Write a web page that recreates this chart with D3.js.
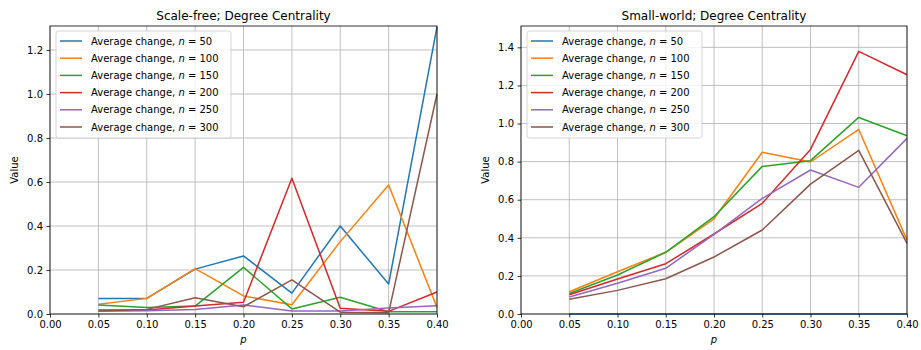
<!DOCTYPE html>
<html>
<head>
<meta charset="utf-8">
<script src="https://cdn.jsdelivr.net/npm/d3@7"></script>
<style>
  body { margin: 0; background: #fff; }
  svg { font-family: "DejaVu Sans", sans-serif; }
</style>
</head>
<body>
<div id="chart"></div>
<script>
// x values shared by both panels
var pValues = [0.05, 0.10, 0.15, 0.20, 0.25, 0.30, 0.35, 0.40];
var nValues = [50, 100, 150, 200, 250, 300];
var xTicks = [0, 0.05, 0.10, 0.15, 0.20, 0.25, 0.30, 0.35, 0.40];

// Scale-free panel
var sfN50  = [0.071, 0.071, 0.204, 0.264, 0.095, 0.400, 0.136, 1.305];
var sfN100 = [0.044, 0.071, 0.206, 0.082, 0.042, 0.329, 0.586, 0.030];
var sfN150 = [0.041, 0.029, 0.036, 0.212, 0.023, 0.076, 0.010, 0.010];
var sfN200 = [0.018, 0.018, 0.036, 0.053, 0.617, 0.026, 0.012, 0.100];
var sfN250 = [0.013, 0.015, 0.021, 0.041, 0.014, 0.014, 0.027, 0.037];
var sfN300 = [0.015, 0.021, 0.074, 0.033, 0.155, 0.008, 0.006, 1.000];
var sfTicks = [0, 0.2, 0.4, 0.6, 0.8, 1.0, 1.2];

// Small-world panel
var swN50  = [0, 0, 0, 0, 0, 0, 0, 0];
var swN100 = [0.117, 0.222, 0.324, 0.500, 0.849, 0.798, 0.969, 0.388];
var swN150 = [0.108, 0.205, 0.324, 0.511, 0.775, 0.805, 1.032, 0.936];
var swN200 = [0.101, 0.184, 0.264, 0.420, 0.581, 0.864, 1.379, 1.256];
var swN250 = [0.089, 0.161, 0.240, 0.418, 0.607, 0.756, 0.665, 0.922];
var swN300 = [0.077, 0.124, 0.185, 0.299, 0.441, 0.682, 0.859, 0.371];
var swTicks = [0, 0.2, 0.4, 0.6, 0.8, 1.0, 1.2, 1.4];

var colors = ["#1f77b4", "#ff7f0e", "#2ca02c", "#d62728", "#9467bd", "#8c564b"];

var svg = d3.select("#chart").append("svg")
    .attr("width", 921).attr("height", 350);

function drawPanel(opts) {
    var left = opts.left, right = opts.right, top = 26, bottom = 314;
    var x = d3.scaleLinear().domain([0, 0.4]).range([left, right]);
    var y = d3.scaleLinear().domain([0, opts.ymax]).range([bottom, top]);
    var g = svg.append("g");

    // grid
    g.append("g").selectAll("line").data(xTicks).enter().append("line")
        .attr("x1", function(d) { return x(d); }).attr("x2", function(d) { return x(d); })
        .attr("y1", top).attr("y2", bottom)
        .style("stroke", "#b0b0b0").attr("stroke-width", 0.8);
    g.append("g").selectAll("line").data(opts.yTicks).enter().append("line")
        .attr("x1", left).attr("x2", right)
        .attr("y1", function(d) { return y(d); }).attr("y2", function(d) { return y(d); })
        .style("stroke", "#b0b0b0").attr("stroke-width", 0.8);

    // series
    var line = d3.line()
        .x(function(d, i) { return x(pValues[i]); })
        .y(function(d) { return y(d); });
    opts.series.forEach(function(s, i) {
        g.append("path").datum(s).attr("d", line)
            .attr("fill", "none").style("stroke", colors[i])
            .attr("stroke-width", 1.5).attr("stroke-linejoin", "round");
    });

    // axes
    var xAxis = d3.axisBottom(x).tickValues(xTicks).tickFormat(d3.format(".2f")).tickSize(3.5).tickPadding(3.5);
    var yAxis = d3.axisLeft(y).tickValues(opts.yTicks).tickFormat(d3.format(".1f")).tickSize(3.5).tickPadding(3.5);
    var gx = g.append("g").attr("transform", "translate(0," + bottom + ")").call(xAxis);
    var gy = g.append("g").attr("transform", "translate(" + left + ",0)").call(yAxis);
    [gx, gy].forEach(function(a) {
        a.select(".domain").remove();
        a.selectAll("line").style("stroke", "#000").attr("stroke-width", 0.8);
        a.selectAll("text").style("font-size", "10px").style("fill", "#000")
            .style("font-family", "DejaVu Sans");
    });

    // frame
    g.append("rect").attr("x", left).attr("y", top)
        .attr("width", right - left).attr("height", bottom - top)
        .attr("fill", "none").style("stroke", "#000").attr("stroke-width", 0.8);

    // titles
    g.append("text").attr("x", (left + right) / 2).attr("y", 20)
        .attr("text-anchor", "middle").style("font-size", "12px").text(opts.title);
    g.append("text").attr("x", (left + right) / 2).attr("y", 343)
        .attr("text-anchor", "middle").style("font-size", "10px")
        .style("font-style", "italic").text("p");
    g.append("text")
        .attr("transform", "translate(" + opts.ylabelX + "," + (top + bottom) / 2 + ") rotate(-90)")
        .attr("text-anchor", "middle").style("font-size", "10px").text("Value");

    // legend
    var lg = g.append("g").attr("transform", "translate(" + (left + 6) + ",31)");
    lg.append("rect").attr("width", 175).attr("height", 107).attr("rx", 2.5)
        .attr("fill", "#fff").attr("fill-opacity", 0.8)
        .style("stroke", "#cccccc").attr("stroke-width", 0.8);
    nValues.forEach(function(n, i) {
        var ry = 10 + i * 17.2;
        lg.append("line").attr("x1", 4).attr("x2", 26).attr("y1", ry).attr("y2", ry)
            .style("stroke", colors[i]).attr("stroke-width", 1.5);
        var t = lg.append("text").attr("x", 35).attr("y", ry + 3.6).style("font-size", "10px");
        t.append("tspan").text("Average change, ");
        t.append("tspan").style("font-style", "italic").text("n");
        t.append("tspan").text(" = " + n);
    });
}

drawPanel({
    left: 50, right: 437, ymax: 1.309, yTicks: sfTicks, ylabelX: 18,
    title: "Scale-free; Degree Centrality",
    series: [sfN50, sfN100, sfN150, sfN200, sfN250, sfN300]
});
drawPanel({
    left: 521, right: 907, ymax: 1.512, yTicks: swTicks, ylabelX: 489,
    title: "Small-world; Degree Centrality",
    series: [swN50, swN100, swN150, swN200, swN250, swN300]
});
</script>
</body>
</html>
